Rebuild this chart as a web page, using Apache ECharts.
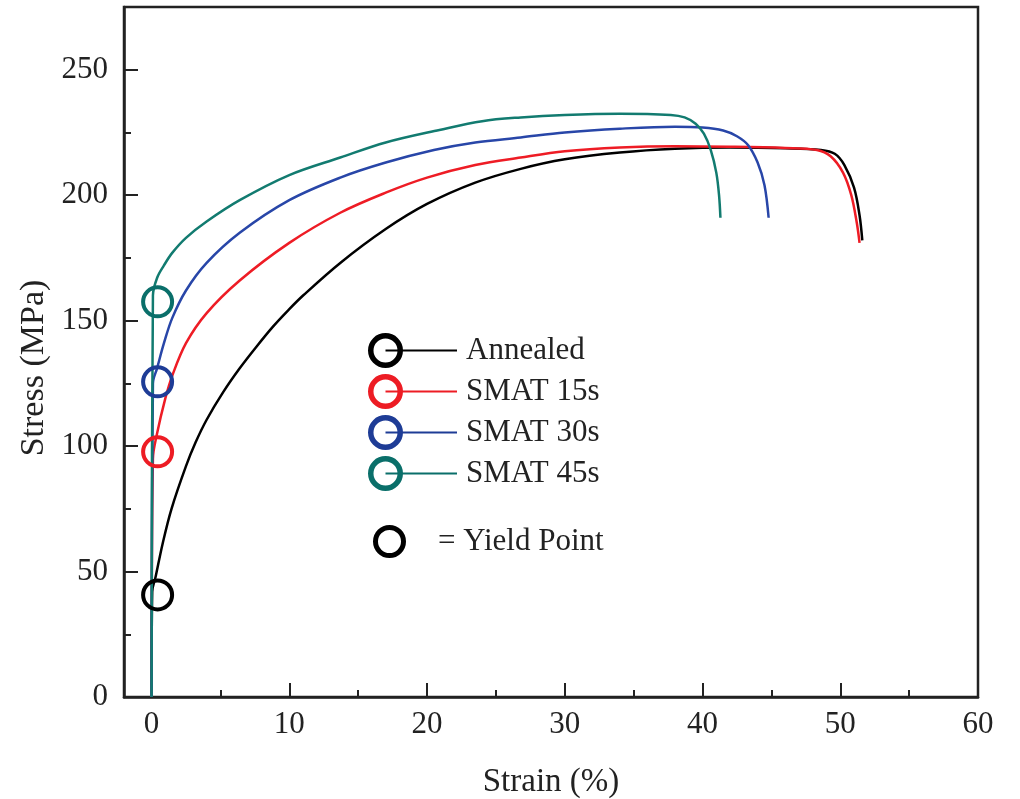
<!DOCTYPE html>
<html>
<head>
<meta charset="utf-8">
<script src="https://cdn.jsdelivr.net/npm/echarts@6/dist/echarts.min.js"></script>
<style>
  html, body { margin: 0; padding: 0; background: #fff; }
  #chart { width: 1020px; height: 799px; }
</style>
</head>
<body>
<div id="chart"></div>
<script>
// strain (%), stress (MPa)
const annealed = [
  [0, 0], [0.05, 42], [0.3, 48], [0.8, 61], [1.45, 75], [2.5, 92], [3.2, 101.5],
  [4, 110.5], [5.2, 121.5], [6.4, 131], [7.6, 139.5], [8.8, 147.5], [9.9, 154],
  [11, 160], [13.7, 173], [17, 186.5], [20, 196.5], [23.5, 205], [26.8, 210.5],
  [30, 214.3], [34, 217], [38, 218.5], [42, 219], [46, 218.7], [48.6, 218],
  [49.6, 216.5], [50.3, 212], [51, 203], [51.4, 192], [51.6, 182]
];
const smat15 = [
  [0, 0], [0.1, 95], [0.4, 105], [1, 119], [1.5, 128], [2.5, 141], [4, 153],
  [6.4, 166], [10, 181], [13.7, 193], [17, 201], [20, 207], [23.5, 212],
  [26.8, 215], [30, 217.5], [34, 219], [38, 219.5], [42, 219.3], [46, 218.8],
  [48.3, 218], [49.3, 215.5], [50.2, 209], [50.8, 200], [51.2, 189], [51.4, 181]
];
const smat30 = [
  [0, 0], [0.1, 125], [0.4, 131], [0.9, 141], [1.5, 151], [2.5, 162], [4, 173],
  [6.4, 185], [10, 198], [13.7, 207], [17, 213], [20.5, 218], [23.5, 221],
  [26.8, 223], [30, 225], [34, 226.5], [38, 227.3], [40, 227], [41.5, 225.8],
  [42.5, 223.5], [43.3, 220], [44, 213], [44.5, 204], [44.8, 191]
];
const smat45 = [
  [0, 0], [0.1, 160], [0.4, 167], [0.9, 172], [1.5, 177], [2.5, 183], [4, 189.5],
  [6.4, 198], [10, 208], [13.7, 215], [17, 221], [20.9, 226], [24, 229.5],
  [26.8, 231], [30, 232], [34, 232.5], [37.7, 232], [38.7, 231], [39.5, 228.5],
  [40.1, 224.5], [40.6, 218], [41, 209], [41.2, 200], [41.3, 191]
];
const yieldPoints = [[0.44, 40.7], [0.44, 97.7], [0.44, 125.6], [0.44, 157.5]];

const seriesNames = ["Annealed", "SMAT 15s", "SMAT 30s", "SMAT 45s"];
const lineColors = ["#000000", "#ee1c25", "#2846a8", "#127b70"];
const ringColors = ["#000000", "#ed1c24", "#1e3c96", "#0a6f6a"];

const xMajorTicks = [0, 10, 20, 30, 40, 50, 60];
const xMinorTicks = [5, 15, 25, 35, 45, 55];
const yMajorTicks = [0, 50, 100, 150, 200, 250];
const yMinorTicks = [25, 75, 125, 175, 225];

const serif = "'Liberation Serif', 'DejaVu Serif', serif";
const ink = "#222";

const chart = echarts.init(document.getElementById("chart"));

const curves = [annealed, smat15, smat30, smat45];
const series = [];
curves.forEach(function (d, i) {
  series.push({
    name: seriesNames[i],
    type: "line",
    data: d,
    showSymbol: false,
    symbol: "none",
    smooth: 0.35,
    lineStyle: { color: lineColors[i], width: 2.5 },
    itemStyle: { color: ringColors[i] },
  });
});
yieldPoints.forEach(function (p, i) {
  series.push({
    name: seriesNames[i] + " yield",
    type: "scatter",
    data: [p],
    symbol: "circle",
    symbolSize: 29,
    z: 5,
    itemStyle: { color: "rgba(0,0,0,0)", borderColor: ringColors[i], borderWidth: 4, opacity: 1 },
  });
});

const ringIcon =
  "path://M0 17.5A17.5 17.5 0 1 1 35 17.5A17.5 17.5 0 1 1 0 17.5Z" +
  "M5.5 17.5A12 12 0 1 0 29.5 17.5A12 12 0 1 0 5.5 17.5Z" +
  "M17.5 16.5L89 16.5L89 18.5L17.5 18.5Z";

const option = {
  animation: false,
  backgroundColor: "#fff",
  grid: {
    left: 124, right: 42, top: 7, bottom: 102,
    outerBoundsMode: "none",
    show: true, borderColor: ink, borderWidth: 2.5,
  },
  legend: {
    data: seriesNames,
    orient: "vertical",
    left: 363,
    top: 328,
    icon: ringIcon,
    itemWidth: 89,
    itemHeight: 35,
    itemGap: 6,
    selectedMode: false,
    itemStyle: { borderWidth: 0 },
    textStyle: { fontFamily: serif, fontSize: 31, color: ink, padding: [0, 0, 0, 4] },
  },
  xAxis: [
    {
      type: "value", min: -2, max: 60,
      name: "Strain (%)", nameLocation: "middle", nameGap: 69,
      nameTextStyle: { fontFamily: serif, fontSize: 33, color: ink },
      axisLine: { show: true, onZero: false, lineStyle: { color: ink, width: 2.5 } },
      axisTick: { show: true, inside: true, length: 14, customValues: xMajorTicks,
        lineStyle: { color: ink, width: 2 } },
      axisLabel: { customValues: xMajorTicks, margin: 12, fontFamily: serif, fontSize: 31, color: ink },
      splitLine: { show: false },
    },
    {
      type: "value", min: -2, max: 60, position: "bottom",
      axisLine: { show: false, onZero: false },
      axisTick: { show: true, inside: true, length: 7, customValues: xMinorTicks,
        lineStyle: { color: ink, width: 2 } },
      axisLabel: { show: false },
      splitLine: { show: false },
    },
  ],
  yAxis: [
    {
      type: "value", min: 0, max: 275,
      name: "Stress (MPa)", nameLocation: "middle", nameGap: 68,
      nameTextStyle: { fontFamily: serif, fontSize: 34, color: ink, padding: [0, 32, 0, 0] },
      axisLine: { show: true, onZero: false, lineStyle: { color: ink, width: 2.5 } },
      axisTick: { show: true, inside: true, length: 14, customValues: yMajorTicks,
        lineStyle: { color: ink, width: 2 } },
      axisLabel: { customValues: yMajorTicks, margin: 16, fontFamily: serif, fontSize: 31, color: ink },
      splitLine: { show: false },
    },
    {
      type: "value", min: 0, max: 275, position: "left",
      axisLine: { show: false, onZero: false },
      axisTick: { show: true, inside: true, length: 7, customValues: yMinorTicks,
        lineStyle: { color: ink, width: 2 } },
      axisLabel: { show: false },
      splitLine: { show: false },
    },
  ],
  graphic: [
    {
      type: "circle", left: 373, top: 525,
      shape: { r: 14 },
      style: { fill: "none", stroke: "#000", lineWidth: 5 },
    },
    {
      type: "text", left: 438, top: 526,
      style: { text: "= Yield Point", font: "31px " + serif, fill: ink },
    },
  ],
  series: series,
};

chart.setOption(option);
</script>
</body>
</html>
